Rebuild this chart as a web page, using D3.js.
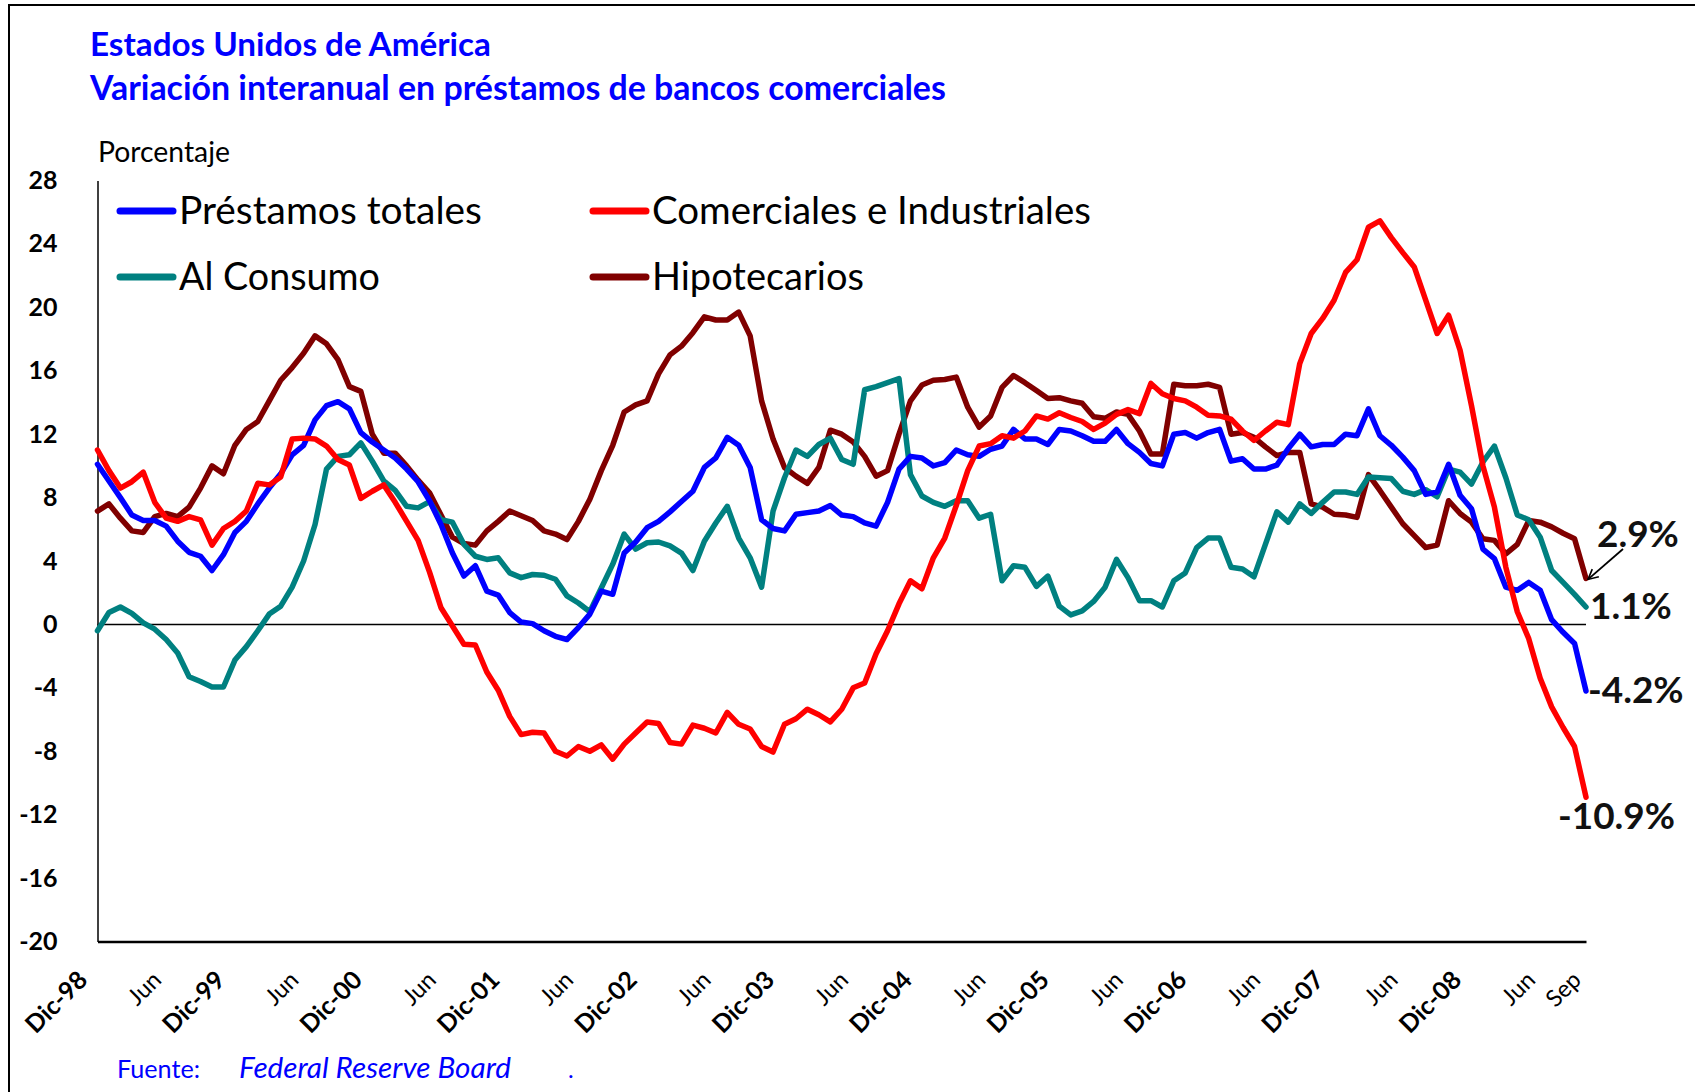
<!DOCTYPE html>
<html>
<head>
<meta charset="utf-8">
<script src="https://cdn.jsdelivr.net/npm/d3@7"></script>
<style>
  body { margin: 0; background: #fff; }
  text { font-family: Lato, "Open Sans", sans-serif; }
</style>
</head>
<body>
<div id="chart"></div>
<script>
// monthly series, Dic-98 .. Sep (131 points)
const totales = [
  10.1, 9.05, 8.0, 6.9, 6.55, 6.55, 6.2, 5.25, 4.55, 4.3, 3.4, 4.4,
  5.8, 6.5, 7.6, 8.6, 9.5, 10.7, 11.3, 12.9, 13.8, 14.05, 13.6, 12.1,
  11.5, 11.0, 10.5, 9.8, 9.0, 7.8, 6.3, 4.5, 3.05, 3.7, 2.1, 1.85,
  0.75, 0.15, 0.05, -0.4, -0.75, -0.95, -0.2, 0.65, 2.1, 1.9, 4.5, 5.2,
  6.1, 6.5, 7.1, 7.75, 8.4, 9.9, 10.5, 11.8, 11.3, 9.9, 6.6, 6.05,
  5.9, 6.95, 7.05, 7.15, 7.5, 6.9, 6.8, 6.4, 6.2, 7.7, 9.8, 10.6,
  10.5, 10.0, 10.2, 11.0, 10.7, 10.6, 11.05, 11.25, 12.3, 11.7, 11.7, 11.35,
  12.3, 12.2, 11.9, 11.55, 11.55, 12.3, 11.4, 10.85, 10.15, 10.0, 12.0, 12.1,
  11.75, 12.1, 12.3, 10.3, 10.45, 9.8, 9.8, 10.05, 11.1, 12.0, 11.2, 11.35,
  11.35, 12.0, 11.9, 13.6, 11.9, 11.3, 10.55, 9.7, 8.2, 8.35, 10.1, 8.15,
  7.3, 4.75, 4.15, 2.35, 2.15, 2.65, 2.15, 0.3, -0.5, -1.2, -4.2
];
const comerciales = [
  11.0, 9.7, 8.6, 9.0, 9.6, 7.7, 6.7, 6.5, 6.8, 6.6, 5.0, 6.05,
  6.5, 7.15, 8.9, 8.8, 9.3, 11.7, 11.75, 11.7, 11.25, 10.4, 10.05, 7.95,
  8.4, 8.8, 7.7, 6.5, 5.3, 3.3, 1.05, -0.1, -1.25, -1.3, -3.0, -4.15,
  -5.8, -6.95, -6.8, -6.85, -8.0, -8.3, -7.7, -8.0, -7.6, -8.5, -7.55, -6.85,
  -6.15, -6.25, -7.45, -7.55, -6.35, -6.55, -6.85, -5.55, -6.3, -6.6, -7.7, -8.05,
  -6.3, -5.95, -5.35, -5.7, -6.15, -5.35, -4.0, -3.7, -1.85, -0.4, 1.3, 2.75,
  2.25, 4.2, 5.45, 7.5, 9.7, 11.25, 11.4, 11.9, 11.75, 12.2, 13.15, 12.95,
  13.35, 13.05, 12.8, 12.3, 12.7, 13.25, 13.55, 13.3, 15.2, 14.55, 14.25, 14.1,
  13.7, 13.2, 13.15, 12.95, 12.2, 11.6, 12.2, 12.75, 12.6, 16.45, 18.35, 19.3,
  20.45, 22.2, 23.0, 25.05, 25.45, 24.4, 23.45, 22.55, 20.45, 18.35, 19.5, 17.3,
  13.8, 10.0, 7.4, 3.6, 0.8, -0.9, -3.4, -5.2, -6.5, -7.7, -10.9
];
const consumo = [
  -0.4, 0.75, 1.1, 0.7, 0.1, -0.3, -0.95, -1.8, -3.3, -3.6, -3.95, -3.95,
  -2.25, -1.4, -0.4, 0.65, 1.15, 2.35, 4.0, 6.3, 9.8, 10.6, 10.7, 11.45,
  10.3, 9.05, 8.45, 7.45, 7.35, 7.75, 6.6, 6.45, 5.05, 4.3, 4.1, 4.2,
  3.25, 2.95, 3.15, 3.1, 2.85, 1.8, 1.35, 0.8, 2.3, 3.8, 5.7, 4.75,
  5.15, 5.2, 4.95, 4.5, 3.4, 5.25, 6.4, 7.45, 5.45, 4.2, 2.35, 7.15,
  9.25, 11.0, 10.6, 11.35, 11.75, 10.4, 10.1, 14.8, 15.0, 15.25, 15.5, 9.45,
  8.1, 7.7, 7.45, 7.8, 7.8, 6.7, 6.95, 2.75, 3.7, 3.6, 2.4, 3.05,
  1.15, 0.6, 0.85, 1.45, 2.35, 4.1, 2.95, 1.5, 1.5, 1.1, 2.75, 3.25,
  4.85, 5.45, 5.45, 3.6, 3.5, 3.0, 5.05, 7.1, 6.45, 7.6, 7.0, 7.7,
  8.35, 8.35, 8.2, 9.3, 9.25, 9.2, 8.4, 8.2, 8.5, 8.05, 9.8, 9.6,
  8.85, 10.25, 11.25, 9.25, 6.9, 6.6, 5.5, 3.4, 2.65, 1.9, 1.1
];
const hipotecarios = [
  7.15, 7.6, 6.7, 5.9, 5.8, 6.8, 7.0, 6.8, 7.4, 8.6, 10.0, 9.5,
  11.3, 12.3, 12.8, 14.1, 15.4, 16.2, 17.1, 18.2, 17.7, 16.7, 15.0, 14.7,
  12.0, 10.8, 10.8, 10.0, 9.1, 8.3, 6.9, 5.5, 5.1, 5.0, 5.9, 6.5,
  7.15, 6.85, 6.55, 5.9, 5.7, 5.35, 6.5, 7.9, 9.7, 11.3, 13.4, 13.85,
  14.1, 15.8, 17.0, 17.55, 18.4, 19.4, 19.2, 19.2, 19.7, 18.2, 14.1, 11.7,
  9.9, 9.35, 8.9, 9.9, 12.25, 12.0, 11.5, 10.6, 9.35, 9.7, 12.0, 14.1,
  15.1, 15.4, 15.45, 15.6, 13.7, 12.45, 13.15, 14.95, 15.7, 15.25, 14.75, 14.25,
  14.3, 14.1, 13.95, 13.1, 13.0, 13.4, 13.25, 12.2, 10.75, 10.75, 15.15, 15.05,
  15.05, 15.15, 14.95, 12.0, 12.1, 11.8, 11.2, 10.65, 10.85, 10.85, 7.6, 7.4,
  6.95, 6.9, 6.75, 9.45, 8.45, 7.4, 6.35, 5.6, 4.85, 5.0, 7.8, 7.0,
  6.45, 5.4, 5.3, 4.45, 5.05, 6.55, 6.45, 6.15, 5.75, 5.4, 2.9
];

// x axis labels (category index -> label)
const tickIdx = [0, 6, 12, 18, 24, 30, 36, 42, 48, 54, 60, 66, 72, 78, 84, 90, 96, 102, 108, 114, 120, 126, 130];
const tickLabels = ["Dic-98", "Jun", "Dic-99", "Jun", "Dic-00", "Jun", "Dic-01", "Jun", "Dic-02", "Jun",
  "Dic-03", "Jun", "Dic-04", "Jun", "Dic-05", "Jun", "Dic-06", "Jun", "Dic-07", "Jun", "Dic-08", "Jun", "Sep"];
const yTicks = [28, 24, 20, 16, 12, 8, 4, 0, -4, -8, -12, -16, -20];

const seriesNames = ["Préstamos totales", "Comerciales e Industriales", "Al Consumo", "Hipotecarios"];
const seriesColors = ["#0000ff", "#ff0000", "#008080", "#800000"];

const W = 1695, H = 1092;
const svg = d3.select("#chart").append("svg")
  .attr("width", W).attr("height", H);

// make a text fit a given width (Calibri look-alike sizing)
function fit(sel, w) {
  const len = sel.node().getComputedTextLength();
  const fs = parseFloat(sel.attr("font-size"));
  sel.attr("font-size", (fs * w / len).toFixed(2));
  return sel;
}

// frame
svg.append("rect")
  .attr("x", 9).attr("y", 5).attr("width", W + 50).attr("height", H + 50)
  .attr("fill", "none").attr("stroke", "#000").attr("stroke-width", 2);

// titles
fit(svg.append("text").attr("x", 90).attr("y", 56).attr("font-size", 30)
  .attr("font-weight", "bold").attr("fill", "#0000ff")
  .text("Estados Unidos de América"), 401);
fit(svg.append("text").attr("x", 90).attr("y", 100).attr("font-size", 30)
  .attr("font-weight", "bold").attr("fill", "#0000ff")
  .text("Variación interanual en préstamos de bancos comerciales"), 856);

fit(svg.append("text").attr("x", 98).attr("y", 162).attr("font-size", 24)
  .attr("fill", "#000").text("Porcentaje"), 132);

// scales
const x = d3.scaleLinear().domain([0, 130]).range([97.5, 1586]);
const y = d3.scaleLinear().domain([-20, 28]).range([941.5, 180.5]);

// y axis
const yAxis = svg.append("g")
  .attr("transform", `translate(${x(0)},0)`)
  .call(d3.axisLeft(y).tickValues(yTicks).tickSize(0).tickPadding(40)
    .tickFormat(d => String(d)));
yAxis.select(".domain").attr("stroke", "#000").attr("stroke-width", 1.5);
yAxis.selectAll("text")
  .attr("font-size", 25).attr("font-weight", "bold")
  .attr("font-family", "Lato").attr("fill", "#000");

// x axis
const isDic = i => tickLabels[i].startsWith("Dic");
const xAxis = svg.append("g")
  .attr("transform", `translate(0,${y(-20)})`)
  .call(d3.axisBottom(x).tickValues(tickIdx).tickSize(0)
    .tickFormat((d, i) => tickLabels[i]));
xAxis.select(".domain").attr("stroke", "#000").attr("stroke-width", 2.5);
xAxis.selectAll("text")
  .attr("x", 0).attr("y", 0).attr("dy", 0)
  .attr("text-anchor", "end")
  .attr("font-family", "Lato")
  .attr("font-size", (d, i) => isDic(i) ? 25 : 23.5)
  .attr("fill", "#000")
  .attr("font-weight", (d, i) => isDic(i) ? "bold" : "normal")
  .attr("transform", (d, i) => `translate(${isDic(i) ? -9 : -4},40) rotate(-45)`);

// zero line
svg.append("line")
  .attr("x1", x(0)).attr("x2", x(130))
  .attr("y1", y(0)).attr("y2", y(0))
  .attr("stroke", "#000").attr("stroke-width", 1.5);

// series
const line = d3.line().x((d, i) => x(i)).y(d => y(d));
const drawOrder = [[hipotecarios, 3], [consumo, 2], [totales, 0], [comerciales, 1]];
drawOrder.forEach(([data, k]) => {
  svg.append("path")
    .datum(data)
    .attr("d", line)
    .attr("fill", "none")
    .attr("stroke", seriesColors[k])
    .attr("stroke-width", 5.5)
    .attr("stroke-linejoin", "round")
    .attr("stroke-linecap", "round");
});

// legend
const legendPos = [[120, 211, 303], [593, 211, 439], [120, 277, 201], [593, 277, 212]];
seriesNames.forEach((name, k) => {
  const [lx, ly, tw] = legendPos[k];
  svg.append("line")
    .attr("x1", lx).attr("x2", lx + 53)
    .attr("y1", ly).attr("y2", ly)
    .attr("stroke", seriesColors[k]).attr("stroke-width", 7)
    .attr("stroke-linecap", "round");
  fit(svg.append("text")
    .attr("x", lx + 59).attr("y", ly + 13)
    .attr("font-size", 34).attr("fill", "#000")
    .text(name), tw);
});

// end labels
const lastVals = [hipotecarios, consumo, totales, comerciales].map(s => s[s.length - 1]);
const fmt = v => v.toFixed(1) + "%";
const endPos = [[1597, 547], [1590, 619], [1588, 703], [1558, 829]];
const big = fit(svg.append("text").attr("x", endPos[3][0]).attr("y", endPos[3][1])
  .attr("font-size", 36).attr("font-weight", "bold").attr("fill", "#111")
  .text(fmt(lastVals[3])), 117);
const endFs = big.attr("font-size");
[0, 1, 2].forEach(k => {
  svg.append("text").attr("x", endPos[k][0]).attr("y", endPos[k][1])
    .attr("font-size", endFs).attr("font-weight", "bold").attr("fill", "#111")
    .text(fmt(lastVals[k]));
});

// arrow to the mortgage end point
svg.append("defs").append("marker")
  .attr("id", "arr").attr("viewBox", "0 0 12 12")
  .attr("refX", 11).attr("refY", 6)
  .attr("markerWidth", 12).attr("markerHeight", 12)
  .attr("markerUnits", "userSpaceOnUse")
  .attr("orient", "auto")
  .append("path").attr("d", "M1,1 L11,6 L1,11")
  .attr("fill", "none").attr("stroke", "#000").attr("stroke-width", 1.6);
svg.append("line")
  .attr("x1", 1623).attr("y1", 549)
  .attr("x2", x(130) + 2).attr("y2", y(lastVals[0]) + 1)
  .attr("stroke", "#000").attr("stroke-width", 1.8)
  .attr("marker-end", "url(#arr)");

// source
fit(svg.append("text").attr("x", 117).attr("y", 1078).attr("font-size", 24)
  .attr("fill", "#0000ff").text("Fuente:"), 83);
fit(svg.append("text").attr("x", 239).attr("y", 1078).attr("font-size", 24)
  .attr("font-style", "italic").attr("fill", "#0000ff").text("Federal Reserve Board"), 272);
svg.append("text").attr("x", 568).attr("y", 1078).attr("font-size", 24)
  .attr("fill", "#0000ff").text(".");
</script>
</body>
</html>
